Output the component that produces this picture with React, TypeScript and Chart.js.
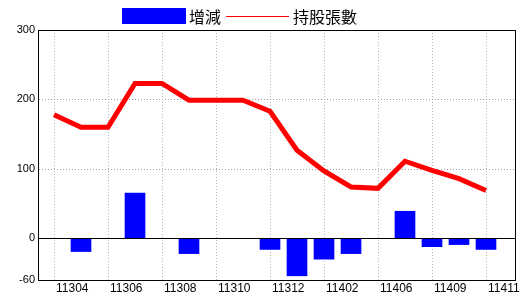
import React, { useEffect, useRef } from "react";
import { Chart, registerables } from "chart.js";

Chart.register(...registerables);

const categories = [
  "11304", "11305", "11306", "11307", "11308", "11309", "11310", "11311", "11312",
  "11401", "11402", "11404", "11406", "11408", "11409", "11410", "11411",
];
const changes = [0, -19, 0, 65, 0, -22, 0, 0, -16, -54, -30, -22, 0, 39, -12, -9, -16];
const holdings = [178, 160, 160, 223, 223, 199, 199, 199, 183, 127, 97, 74, 72, 111, 98, 86, 69];
const yTicks = [300, 200, 100, 0, -60];
const xTickStep = 2;
const seriesNames = ["增減", "持股張數"];

const gridPlugin = {
  id: "customGrid",
  beforeDatasetsDraw(chart: any) {
    const { ctx, chartArea: a, scales } = chart;
    const x = scales.x;
    const y = scales.y;
    ctx.save();
    ctx.lineWidth = 1;
    ctx.setLineDash([1, 2]);
    ctx.strokeStyle = "#9dbccd";
    for (let i = 0; i < categories.length; i += xTickStep) {
      const px = Math.round(x.getPixelForValue(i)) + 0.5;
      ctx.beginPath();
      ctx.moveTo(px, a.top);
      ctx.lineTo(px, a.bottom);
      ctx.stroke();
    }
    ctx.strokeStyle = "#a0a0a0";
    yTicks.forEach((v) => {
      if (v === 0 || v === yTicks[0] || v === yTicks[yTicks.length - 1]) return;
      const py = Math.round(y.getPixelForValue(v)) + 0.5;
      ctx.beginPath();
      ctx.moveTo(a.left, py);
      ctx.lineTo(a.right, py);
      ctx.stroke();
    });
    ctx.restore();
  },
  afterDatasetsDraw(chart: any) {
    const { ctx, chartArea: a, scales } = chart;
    const y = scales.y;
    ctx.save();
    ctx.lineWidth = 1;
    ctx.setLineDash([]);
    ctx.strokeStyle = "#000000";
    const zy = Math.round(y.getPixelForValue(0)) + 0.5;
    ctx.beginPath();
    ctx.moveTo(a.left, zy);
    ctx.lineTo(a.right, zy);
    ctx.stroke();
    ctx.strokeRect(Math.round(a.left) - 0.5, Math.round(a.top) + 0.5, Math.round(a.right - a.left), Math.round(a.bottom - a.top));
    ctx.restore();
  },
};

export default function App() {
  const ref = useRef<HTMLCanvasElement | null>(null);

  useEffect(() => {
    document.body.style.margin = "0";
    const canvas = ref.current;
    if (!canvas) return;
    const chart = new Chart(canvas, {
      type: "bar",
      data: {
        datasets: [
          {
            type: "bar",
            label: seriesNames[0],
            data: changes.map((v, i) => ({ x: i, y: v })),
            backgroundColor: "#0000ff",
            borderWidth: 0,
            barThickness: 20,
            order: 2,
          } as any,
          {
            type: "line",
            label: seriesNames[1],
            data: holdings.map((v, i) => ({ x: i, y: v })),
            borderColor: "#ff0000",
            borderWidth: 5,
            pointRadius: 0,
            tension: 0,
            fill: false,
            order: 1,
          } as any,
        ],
      },
      options: {
        animation: false,
        responsive: false,
        maintainAspectRatio: false,
        layout: { padding: { top: 30, right: 4, left: 0, bottom: 0 } },
        plugins: { legend: { display: false }, tooltip: { enabled: false } },
        scales: {
          x: {
            type: "linear",
            offset: false,
            min: -15 / 27,
            max: 16 + 30 / 27,
            grid: { display: false, drawTicks: false, offset: false },
            border: { display: false },
            afterBuildTicks: (s: any) => {
              const t: any[] = [];
              for (let i = 0; i < categories.length; i += xTickStep) t.push({ value: i });
              s.ticks = t;
            },
            afterFit: (s: any) => {
              s.height = 20;
              s.paddingLeft = 0;
              s.paddingRight = 0;
            },
            ticks: {
              align: "start",
              labelOffset: 2,
              padding: 1,
              maxRotation: 0,
              autoSkip: false,
              color: "#000000",
              font: { family: "'Liberation Sans', Arial, sans-serif", size: 12 },
              callback: (v: any) => categories[Math.round(Number(v))] ?? "",
            },
          },
          y: {
            type: "linear",
            min: -60,
            max: 300,
            grid: { display: false, drawTicks: false },
            border: { display: false },
            afterBuildTicks: (s: any) => {
              s.ticks = yTicks.map((v) => ({ value: v }));
            },
            afterFit: (s: any) => {
              s.width = 39;
              s.paddingTop = 0;
              s.paddingBottom = 0;
            },
            ticks: {
              padding: 4,
              color: "#000000",
              font: { family: "'Liberation Sans', Arial, sans-serif", size: 11 },
            },
          },
        },
      },
      plugins: [gridPlugin],
    });
    return () => chart.destroy();
  }, []);

  const textStyle: React.CSSProperties = {
    position: "absolute",
    top: 7,
    fontFamily: "'Noto Sans CJK TC', sans-serif",
    fontSize: 16,
    lineHeight: "18px",
    color: "#000",
    whiteSpace: "nowrap",
  };

  return (
    <div style={{ position: "fixed", left: 0, top: 0, width: 520, height: 300, background: "#fff" }}>
      <canvas ref={ref} width={520} height={300} style={{ position: "absolute", left: 0, top: 0, width: 520, height: 300 }} />
      <div style={{ position: "absolute", left: 122, top: 8, width: 64, height: 16, background: "#0000ff" }} />
      <span style={{ ...textStyle, left: 189 }}>{seriesNames[0]}</span>
      <div style={{ position: "absolute", left: 226, top: 16, width: 63, height: 1, background: "#ff0000" }} />
      <span style={{ ...textStyle, left: 293 }}>{seriesNames[1]}</span>
    </div>
  );
}
